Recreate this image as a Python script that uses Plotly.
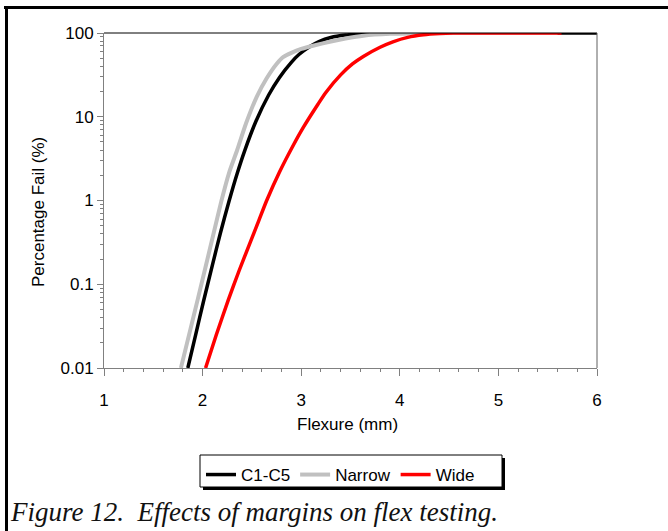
import plotly.graph_objects as go

# Flexure (mm) vs cumulative percentage of failures
c15_x = [1.85, 1.93, 2.01, 2.10, 2.18, 2.27, 2.35, 2.43, 2.54, 2.67, 2.78, 2.90, 2.98,
         3.08, 3.18, 3.30, 3.45, 3.65, 3.90, 4.20, 4.60, 6.00]
c15_y = [0.01, 0.0251, 0.0631, 0.170, 0.407, 1.0, 2.09, 4.03, 8.77, 18.2, 29.5, 44.7, 55.7,
         68, 79, 88.5, 94.5, 97.8, 99.3, 99.85, 100, 100]

narrow_x = [1.78, 1.87, 1.95, 2.03, 2.11, 2.19, 2.27, 2.35, 2.44, 2.55, 2.65, 2.75,
            2.82, 2.90, 3.00, 3.12, 3.29, 3.45, 3.63, 3.90, 4.30, 4.80, 5.60]
narrow_y = [0.01, 0.027, 0.0655, 0.161, 0.398, 0.98, 2.17, 3.98, 8.3, 17.4, 28.8, 42.7,
            51.9, 58, 64.6, 70.5, 78.7, 86, 93, 97.7, 99.5, 100, 100]

wide_x = [2.03, 2.14, 2.26, 2.37, 2.48, 2.57, 2.65, 2.78, 2.92, 3.02, 3.17, 3.25,
          3.40, 3.52, 3.63, 3.80, 3.93, 4.08, 4.24, 4.40, 4.54, 5.00, 5.64]
wide_y = [0.01, 0.0251, 0.0646, 0.145, 0.309, 0.575, 1.0, 2.19, 4.57, 7.41, 14.1, 19.5,
          31.6, 42.7, 52.5, 67.6, 78.5, 88.7, 95.1, 98.4, 99.8, 100, 100]

y_tickvals = [0.01, 0.1, 1, 10, 100]
y_ticktext = ["0.01", "0.1", "1", "10", "100"]
x_tickvals = [1, 2, 3, 4, 5, 6]

FONT = "Liberation Sans, Arial, sans-serif"
W, H = 668, 531
L, R, T, B = 104, 597, 33, 368   # plot area edges in pixels


def px(p):
    return (p - L) / (R - L)


def py(p):
    return (B - p) / (B - T)


fig = go.Figure()
fig.add_trace(go.Scatter(x=c15_x, y=c15_y, name="C1-C5", mode="lines",
                         line=dict(color="#000000", width=3.5, shape="spline",
                                   smoothing=0.7)))
fig.add_trace(go.Scatter(x=narrow_x, y=narrow_y, name="Narrow", mode="lines",
                         line=dict(color="#c0c0c0", width=4, shape="spline",
                                   smoothing=0.6)))
fig.add_trace(go.Scatter(x=wide_x, y=wide_y, name="Wide", mode="lines",
                         line=dict(color="#ff0000", width=3.5, shape="spline",
                                   smoothing=0.7)))

axis_col = "#808080"
fig.update_layout(
    width=W, height=H,
    margin=dict(l=L, r=W - R, t=T, b=H - B, pad=0),
    paper_bgcolor="white", plot_bgcolor="white",
    font=dict(family=FONT, size=17, color="black"),
    showlegend=True,
    legend=dict(orientation="h", x=px(201), y=py(457), xanchor="left", yanchor="top",
                bgcolor="rgba(0,0,0,0)", borderwidth=0,
                font=dict(family=FONT, size=17, color="black")),
    xaxis=dict(range=[1, 6], tickvals=x_tickvals, ticks="outside", ticklen=7,
               tickcolor=axis_col, showline=True, linecolor=axis_col, linewidth=1,
               ticklabelstandoff=10,
               mirror=False, showgrid=False, zeroline=False,
               minor=dict(ticks="outside", ticklen=3, dtick=0.2, tickcolor=axis_col)),
    yaxis=dict(type="log", range=[-2, 2], tickvals=y_tickvals, ticktext=y_ticktext,
               ticks="outside", ticklen=6, tickcolor=axis_col, showline=True,
               linecolor=axis_col, linewidth=1, showgrid=False, zeroline=False,
               minor=dict(ticks="outside", ticklen=3, dtick="D1", tickcolor=axis_col)),
    # overlay axes give the ticks their inner half so they cross the axis lines
    xaxis2=dict(overlaying="x", anchor="y", side="bottom", range=[1, 6],
                tickvals=x_tickvals, ticks="inside", ticklen=5, tickcolor=axis_col,
                showticklabels=False, showline=False, showgrid=False, zeroline=False,
                minor=dict(ticks="inside", ticklen=3, dtick=0.2, tickcolor=axis_col)),
    yaxis2=dict(overlaying="y", anchor="x", side="left", type="log", range=[-2, 2],
                tickvals=y_tickvals, ticks="inside", ticklen=3, tickcolor=axis_col,
                showticklabels=False, showline=False, showgrid=False, zeroline=False,
                minor=dict(ticks="inside", ticklen=2, dtick="D1", tickcolor=axis_col)),
)

shapes = [
    # plot area top and right edges
    dict(type="line", xref="paper", yref="paper", x0=0, x1=1, y0=1, y1=1,
         line=dict(color="black", width=1)),
    dict(type="line", xref="paper", yref="paper", x0=1, x1=1, y0=0, y1=1,
         line=dict(color="#606060", width=1)),
    # legend box with drop shadow
    dict(type="rect", xref="paper", yref="paper", x0=px(203), x1=px(505),
         y0=py(490), y1=py(458), fillcolor="black", line=dict(width=0), layer="below"),
    dict(type="rect", xref="paper", yref="paper", x0=px(200), x1=px(502),
         y0=py(487), y1=py(455), fillcolor="white", line=dict(color="black", width=1),
         layer="below"),
    # figure frame (top and left)
    dict(type="line", xref="paper", yref="paper", x0=px(4), x1=px(668),
         y0=py(7.5), y1=py(7.5), line=dict(color="black", width=3)),
    dict(type="line", xref="paper", yref="paper", x0=px(6.5), x1=px(6.5),
         y0=py(6), y1=py(531), line=dict(color="black", width=3)),
]
fig.update_layout(shapes=shapes)

annotations = [
    dict(text="Percentage Fail (%)", xref="paper", yref="paper", x=px(38), y=py(212),
         showarrow=False, textangle=-90, font=dict(family=FONT, size=17, color="black"),
         xanchor="center", yanchor="middle"),
    dict(text="Flexure (mm)", xref="paper", yref="paper", x=px(347), y=py(424),
         showarrow=False, font=dict(family=FONT, size=17, color="black"),
         xanchor="center", yanchor="middle"),
    dict(text="<i>Figure 12.  Effects of margins on flex testing.</i>", xref="paper",
         yref="paper", x=px(8), y=py(512), showarrow=False, xanchor="left",
         yanchor="middle",
         font=dict(family="Liberation Serif, Times New Roman, serif", size=27,
                   color="#111111")),
]
fig.update_layout(annotations=annotations)

fig.write_html("out.html")
